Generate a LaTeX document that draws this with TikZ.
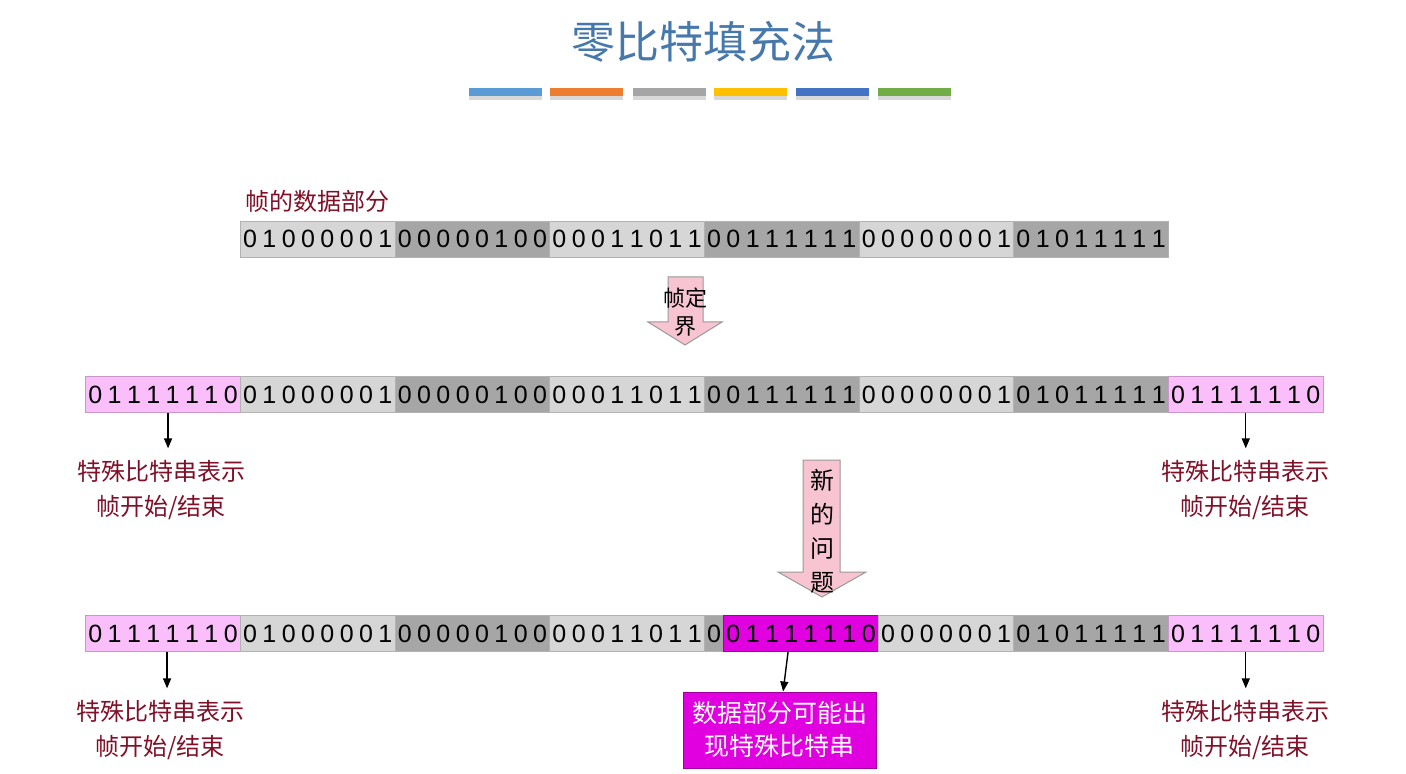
\documentclass[tikz,border=0pt]{standalone}
\usepackage{fontspec}
\setmainfont{Liberation Sans}
\newfontfamily\cjk{Noto Sans CJK SC}
\usetikzlibrary{arrows.meta}
\makeatletter
\newcommand\bitsrow[1]{\@tfor\bt:=#1\do{\makebox[9.67pt]{\bt}}}
\makeatother
\definecolor{lite}{RGB}{214,214,214}
\definecolor{dark}{RGB}{166,166,166}
\definecolor{pinkc}{RGB}{250,190,250}
\definecolor{magc}{RGB}{224,0,224}
\definecolor{maroon}{RGB}{128,16,40}
\definecolor{titleblue}{RGB}{70,120,172}
\definecolor{arrpink}{RGB}{248,196,210}
\definecolor{c1}{RGB}{91,155,213}
\definecolor{c2}{RGB}{237,125,49}
\definecolor{c3}{RGB}{165,165,165}
\definecolor{c4}{RGB}{255,192,0}
\definecolor{c5}{RGB}{68,114,196}
\definecolor{c6}{RGB}{112,173,71}
\tikzset{
  bytebox/.style={draw=black!30, line width=0.4pt, inner sep=0pt, anchor=west,
    minimum height=18pt, font=\fontsize{12.5}{14}\selectfont, text height=9pt, text depth=0pt},
  litebox/.style={bytebox, fill=lite},
  darkbox/.style={bytebox, fill=dark},
  pinkbox/.style={bytebox, fill=pinkc, draw=pinkc!80!black},
  magbox/.style={bytebox, fill=magc, draw=magc!70!black},
  lab/.style={text=maroon, font=\cjk\fontsize{12}{17.5}\selectfont, align=center, inner sep=0pt},
  arr/.style={-{Triangle[length=5pt,width=4pt]}, line width=0.7pt, black},
  blockarr/.style={fill=arrpink, draw=black!40, line width=0.5pt},
  arrtext/.style={font=\cjk\fontsize{11}{14}\selectfont, align=center, inner sep=0pt},
}
\newcommand\byt[5]{\node[#1, minimum width=#2*9.67pt] (#3) at (#4) {\bitsrow{#5}};}
\begin{document}
\begin{tikzpicture}[x=0.5pt,y=-0.5pt]
\useasboundingbox[fill=white] (0,0) rectangle (1406,774);
% title
\node[font=\cjk\fontsize{22}{24}\selectfont, text=titleblue] (title) at (703,42) {零比特填充法};
% colour bars
\foreach \xx/\cc in {469/c1,550/c2,633/c3,714/c4,796/c5,878/c6}{
  \fill[black!15] (\xx,96) rectangle ++(73,4);
  \fill[\cc] (\xx,88) rectangle ++(73,8);
}
% row 1
\node[lab, anchor=west] (datalab) at (245,201) {帧的数据部分};
\byt{litebox}{8}{a1}{240,239}{01000001}
\byt{darkbox}{8}{a2}{394.7,239}{00000100}
\byt{litebox}{8}{a3}{549.3,239}{00011011}
\byt{darkbox}{8}{a4}{704,239}{00111111}
\byt{litebox}{8}{a5}{858.7,239}{00000001}
\byt{darkbox}{8}{a6}{1013.3,239}{01011111}
% arrow 1
\path[blockarr] (668,277) -- (703,277) -- (703,322) -- (722,322) -- (685,345) -- (648,322) -- (668,322) -- cycle;
\node[arrtext] (fd) at (685,312) {帧定\\界};
% row 2
\byt{pinkbox}{8}{b0}{85.3,394.5}{01111110}
\byt{litebox}{8}{b1}{240,394.5}{01000001}
\byt{darkbox}{8}{b2}{394.7,394.5}{00000100}
\byt{litebox}{8}{b3}{549.3,394.5}{00011011}
\byt{darkbox}{8}{b4}{704,394.5}{00111111}
\byt{litebox}{8}{b5}{858.7,394.5}{00000001}
\byt{darkbox}{8}{b6}{1013.3,394.5}{01011111}
\byt{pinkbox}{8}{b7}{1168,394.5}{01111110}
\node[lab] (l2l) at (161,490.5) {特殊比特串表示\\帧开始/结束};
\node[lab] (l2r) at (1245,490.5) {特殊比特串表示\\帧开始/结束};
\draw[arr] ([xshift=2.5pt]b0.south) -- ([xshift=2.5pt]b0.south |- l2l.north) [shorten >=6pt];
\draw[arr] ([xshift=0pt]b7.south) -- (b7.south |- l2r.north) [shorten >=6pt];
% arrow 2
\path[blockarr] (803,460) -- (840,460) -- (840,572) -- (866,572) -- (822,597) -- (778,572) -- (803,572) -- cycle;
\node[arrtext, font=\cjk\fontsize{12}{17}\selectfont] (np) at (822,531) {新\\的\\问\\题};
% row 3
\byt{pinkbox}{8}{c0}{85.3,633.5}{01111110}
\byt{litebox}{8}{c1}{240,633.5}{01000001}
\byt{darkbox}{8}{c2}{394.7,633.5}{00000100}
\byt{litebox}{8}{c3}{549.3,633.5}{00011011}
\byt{darkbox}{1}{c4}{704,633.5}{0}
\byt{magbox}{8}{c5}{723.3,633.5}{01111110}
\byt{litebox}{7}{c6}{878,633.5}{0000001}
\byt{darkbox}{8}{c7}{1013.3,633.5}{01011111}
\byt{pinkbox}{8}{c8}{1168,633.5}{01111110}
\node[lab] (l3l) at (160,730.5) {特殊比特串表示\\帧开始/结束};
\node[lab] (l3r) at (1245,730.5) {特殊比特串表示\\帧开始/结束};
\node[fill=magc, draw=magc!70!black, line width=0.5pt, minimum width=96.5pt, minimum height=38pt,
  text=white, align=center, inner sep=0pt, font=\cjk\fontsize{12.5}{16.5}\selectfont] (prob) at (779.5,730) {数据部分可能出\\现特殊比特串};
\draw[arr] ([xshift=2pt]c0.south) -- ([xshift=2pt]c0.south |- l3l.north) [shorten >=6pt];
\draw[arr] (c8.south) -- (c8.south |- l3r.north) [shorten >=6pt];
\draw[arr] ([xshift=-6.5pt]c5.south) -- ([xshift=1.8pt]prob.north);
\end{tikzpicture}
\end{document}
